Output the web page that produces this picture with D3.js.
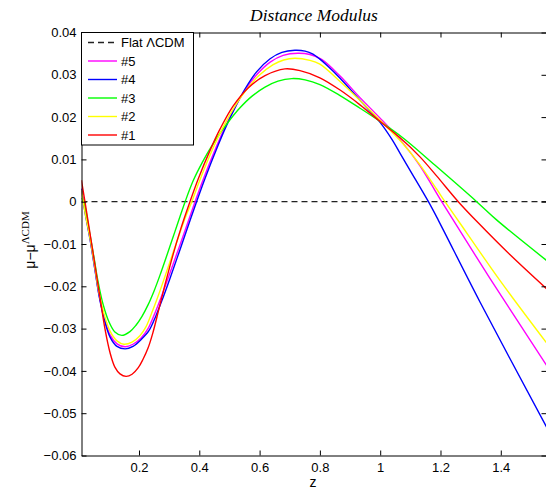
<!DOCTYPE html>
<html>
<head>
<meta charset="utf-8">
<script src="https://cdn.jsdelivr.net/npm/d3@7"></script>
<style>
  html, body { margin: 0; padding: 0; background: #fff; }
  svg { display: block; }
</style>
</head>
<body>
<svg id="chart" width="546" height="489"></svg>
<script>
// ---- data ----
const xTicks = [0.2, 0.4, 0.6, 0.8, 1.0, 1.2, 1.4];
const yTicks = [-0.06, -0.05, -0.04, -0.03, -0.02, -0.01, 0, 0.01, 0.02, 0.03, 0.04];
const legendLabels = ["Flat \u039BCDM", "#5", "#4", "#3", "#2", "#1"];

// #1 (red)
const series1 = [[0.009,0.0051],[0.021,-0.0001],[0.038,-0.0077],[0.054,-0.0150],[0.071,-0.0228],[0.087,-0.0300],[0.104,-0.0357],[0.120,-0.0391],[0.137,-0.0407],[0.157,-0.0413],[0.177,-0.0408],[0.197,-0.0393],[0.213,-0.0373],[0.230,-0.0346],[0.246,-0.0310],[0.266,-0.0254],[0.286,-0.0197],[0.313,-0.0125],[0.339,-0.0063],[0.369,0],[0.397,0.0055],[0.436,0.0122],[0.469,0.0172],[0.512,0.0226],[0.562,0.0269],[0.618,0.0298],[0.684,0.0314],[0.734,0.0310],[0.800,0.0293],[0.867,0.0264],[0.933,0.0229],[0.999,0.0190],[1.066,0.0151],[1.132,0.0106],[1.187,0.0061],[1.259,0],[1.325,-0.0050],[1.430,-0.0125],[1.552,-0.0206]];
// #2 (yellow)
const series2 = [[0.009,0.0028],[0.021,-0.0025],[0.038,-0.0088],[0.054,-0.0157],[0.067,-0.0214],[0.084,-0.0265],[0.104,-0.0306],[0.127,-0.0329],[0.150,-0.0337],[0.177,-0.0332],[0.203,-0.0317],[0.223,-0.0296],[0.246,-0.0256],[0.265,-0.0220],[0.285,-0.0179],[0.305,-0.0137],[0.330,-0.0085],[0.355,-0.0035],[0.375,0],[0.400,0.0048],[0.430,0.0101],[0.460,0.0149],[0.490,0.0191],[0.515,0.0222],[0.546,0.0255],[0.596,0.0297],[0.645,0.0324],[0.680,0.0335],[0.717,0.0339],[0.767,0.0334],[0.800,0.0325],[0.867,0.0284],[0.933,0.0239],[0.999,0.0193],[1.072,0.0140],[1.130,0.0089],[1.187,0.0030],[1.215,0],[1.259,-0.0045],[1.397,-0.0186],[1.552,-0.0334]];
// #3 (green)
const series3 = [[0.009,0.0009],[0.018,-0.0003],[0.034,-0.0065],[0.051,-0.0133],[0.064,-0.0188],[0.081,-0.0243],[0.101,-0.0285],[0.120,-0.0308],[0.143,-0.0316],[0.170,-0.0307],[0.190,-0.0292],[0.210,-0.0271],[0.230,-0.0244],[0.250,-0.0211],[0.270,-0.0173],[0.290,-0.0132],[0.320,-0.0069],[0.353,0],[0.380,0.0050],[0.410,0.0093],[0.440,0.0130],[0.470,0.0163],[0.500,0.0192],[0.535,0.0222],[0.574,0.0249],[0.618,0.0271],[0.661,0.0285],[0.707,0.0291],[0.751,0.0288],[0.800,0.0277],[0.867,0.0251],[0.933,0.0221],[0.999,0.0190],[1.077,0.0150],[1.187,0.0083],[1.320,0],[1.386,-0.0043],[1.552,-0.0139]];
// #4 (blue)
const series4 = [[0.009,0.0030],[0.021,-0.0025],[0.038,-0.0091],[0.054,-0.0162],[0.067,-0.0220],[0.084,-0.0276],[0.104,-0.0320],[0.127,-0.0342],[0.154,-0.0348],[0.180,-0.0342],[0.207,-0.0326],[0.233,-0.0305],[0.256,-0.0270],[0.278,-0.0230],[0.301,-0.0185],[0.326,-0.0134],[0.353,-0.0078],[0.391,0],[0.419,0.0055],[0.461,0.0131],[0.489,0.0178],[0.524,0.0230],[0.552,0.0267],[0.590,0.0307],[0.635,0.0338],[0.674,0.0353],[0.717,0.0358],[0.751,0.0356],[0.777,0.0349],[0.800,0.0337],[0.824,0.0322],[0.867,0.0292],[0.910,0.0258],[0.956,0.0222],[0.999,0.0188],[1.040,0.0146],[1.067,0.0113],[1.100,0.0073],[1.160,0],[1.193,-0.0044],[1.331,-0.0237],[1.552,-0.0533]];
// #5 (magenta)
const series5 = [[0.009,0.0032],[0.021,-0.0022],[0.038,-0.0088],[0.054,-0.0160],[0.067,-0.0218],[0.084,-0.0272],[0.104,-0.0315],[0.127,-0.0336],[0.154,-0.0343],[0.180,-0.0337],[0.207,-0.0322],[0.230,-0.0300],[0.253,-0.0263],[0.276,-0.0221],[0.300,-0.0174],[0.326,-0.0122],[0.349,-0.0076],[0.386,0],[0.412,0.0051],[0.452,0.0122],[0.482,0.0171],[0.518,0.0223],[0.552,0.0264],[0.590,0.0300],[0.635,0.0330],[0.678,0.0346],[0.727,0.0351],[0.767,0.0348],[0.807,0.0336],[0.867,0.0297],[0.933,0.0246],[0.999,0.0198],[1.076,0.0138],[1.132,0.0085],[1.204,0],[1.364,-0.0181],[1.552,-0.0387]];

// ---- layout ----
const svg = d3.select("#chart");
const L = 81.5, R = 546.5, T = 32.5, B = 455.5;
const x = d3.scaleLinear().domain([0.0093, 1.5516]).range([L, R]);
const y = d3.scaleLinear().domain([-0.06, 0.04]).range([B, T]);
const font = "'Liberation Sans', Arial, Helvetica, sans-serif";
const serif = "'Liberation Serif', 'Times New Roman', Times, serif";

svg.append("defs").append("clipPath").attr("id", "clip")
  .append("rect").attr("x", L).attr("y", T).attr("width", R - L).attr("height", B - T);

// zero reference (Flat LCDM)
const plot = svg.append("g").attr("clip-path", "url(#clip)");
plot.append("line")
  .attr("x1", x(x.domain()[0])).attr("x2", x(x.domain()[1]))
  .attr("y1", y(0)).attr("y2", y(0))
  .attr("stroke", "#222").attr("stroke-width", 1.3).attr("stroke-dasharray", "6,4");

const line = d3.line().x(d => x(d[0])).y(d => y(d[1])).curve(d3.curveCatmullRom.alpha(0.5));
const drawOrder = [
  {data: series5, color: "#ff00ff"},
  {data: series4, color: "#0000ff"},
  {data: series3, color: "#00ff00"},
  {data: series2, color: "#ffff00"},
  {data: series1, color: "#ff0000"}
];
drawOrder.forEach(s => {
  plot.append("path").datum(s.data).attr("d", line)
    .attr("fill", "none").attr("stroke", s.color).attr("stroke-width", 1.4);
});

// ---- axes ----
const fmtY = v => v === 0 ? "0" : d3.format(".2f")(v).replace("-", "\u2212");
const fmtX = v => d3.format("~g")(v);

const axB = svg.append("g").attr("transform", `translate(0,${B})`)
  .call(d3.axisBottom(x).tickValues(xTicks).tickFormat(fmtX).tickSizeInner(-5).tickSizeOuter(0).tickPadding(7));
const axT = svg.append("g").attr("transform", `translate(0,${T})`)
  .call(d3.axisTop(x).tickValues(xTicks).tickFormat("").tickSizeInner(-5).tickSizeOuter(0));
const axLft = svg.append("g").attr("transform", `translate(${L},0)`)
  .call(d3.axisLeft(y).tickValues(yTicks).tickFormat(fmtY).tickSizeInner(-5).tickSizeOuter(0).tickPadding(5));
const axRgt = svg.append("g").attr("transform", `translate(${R},0)`)
  .call(d3.axisRight(y).tickValues(yTicks).tickFormat("").tickSizeInner(-5).tickSizeOuter(0));

[axB, axT, axLft, axRgt].forEach(g => {
  g.select(".domain").attr("stroke", "#000").attr("stroke-width", 1);
  g.selectAll(".tick line").attr("stroke", "#000").attr("stroke-width", 1);
  g.selectAll("text").attr("fill", "#000").style("font-family", font).style("font-size", "13px");
});

// ---- titles ----
svg.append("text").attr("x", (L + R) / 2).attr("y", 21)
  .attr("text-anchor", "middle")
  .style("font-family", serif).style("font-style", "italic").style("font-size", "17.5px")
  .text("Distance Modulus");

svg.append("text").attr("x", 313).attr("y", 487)
  .attr("text-anchor", "middle")
  .style("font-family", font).style("font-size", "14px")
  .text("z");

const yl = svg.append("text")
  .attr("transform", `translate(35,${(T + B) / 2 - 4}) rotate(-90)`)
  .attr("text-anchor", "middle")
  .style("font-family", font).style("font-size", "14px");
yl.append("tspan").text("\u03BC\u2212\u03BC");
yl.append("tspan").attr("dy", -6).style("font-family", serif).style("font-size", "11px").text("\u039BCDM");

// ---- legend ----
const lg = svg.append("g");
lg.append("rect").attr("x", 81.5).attr("y", 32.5).attr("width", 112).attr("height", 112.5)
  .attr("fill", "#fff").attr("stroke", "#000").attr("stroke-width", 1);
const legendColors = ["#222", "#ff00ff", "#0000ff", "#00ff00", "#ffff00", "#ff0000"];
legendLabels.forEach((lab, i) => {
  const yy = 42.5 + i * 18.5;
  lg.append("line").attr("x1", 88).attr("x2", 117).attr("y1", yy).attr("y2", yy)
    .attr("stroke", legendColors[i]).attr("stroke-width", i === 0 ? 1.3 : 1.4)
    .attr("stroke-dasharray", i === 0 ? "6,4" : null);
  lg.append("text").attr("x", 121).attr("y", yy).attr("dy", "0.36em")
    .style("font-family", font).style("font-size", "13px").attr("fill", "#000")
    .text(lab);
});
</script>
</body>
</html>
